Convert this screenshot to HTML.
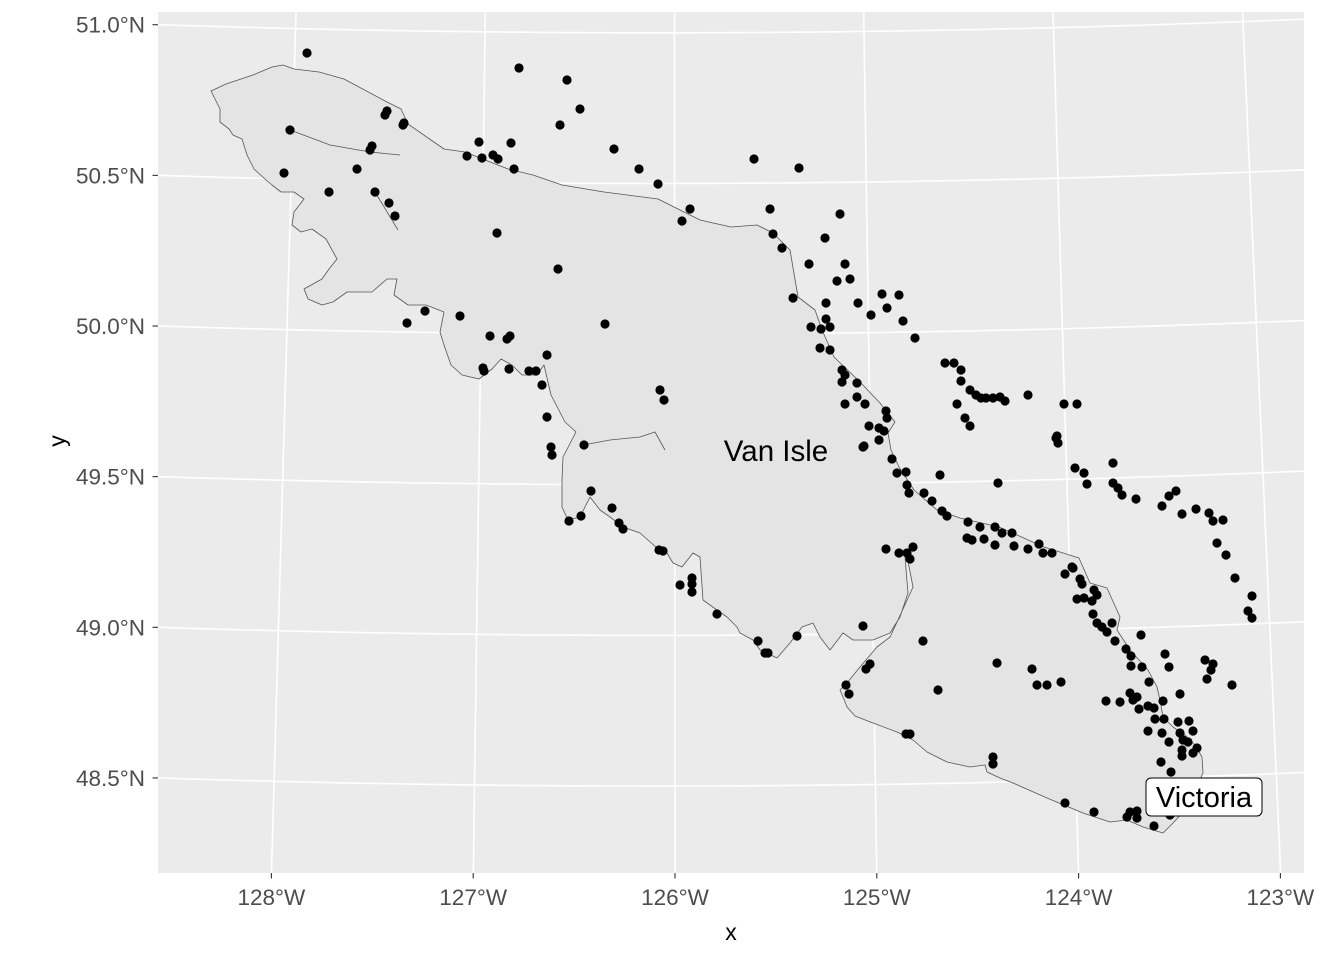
<!DOCTYPE html>
<html><head><meta charset="utf-8"><style>
html,body{margin:0;padding:0;background:#fff;overflow:hidden;width:1344px;height:960px;}
svg{display:block;font-family:"Liberation Sans",Arial,sans-serif;}
</style></head><body>
<svg id="chart" width="1344" height="960" viewBox="0 0 1344 960">
<rect x="0" y="0" width="1344" height="960" fill="#fff"/>
<defs><clipPath id="pc"><rect x="158" y="12" width="1146" height="861"/></clipPath></defs>
<rect x="158" y="12" width="1146" height="861" fill="#EBEBEB"/>
<g id="grid" clip-path="url(#pc)"></g>
<g id="island" clip-path="url(#pc)"></g>
<g id="pts" clip-path="url(#pc)"></g>
<g id="labels"></g>
<g id="axes"></g>
<text x="731" y="940" text-anchor="middle" font-size="23" fill="#000">x</text>
<text x="0" y="0" transform="translate(65,441) rotate(-90)" text-anchor="middle" font-size="23" fill="#000">y</text>
</svg>
<script>
// projected coordinates (km-like easting / northing)
const ptE=[953.5,1059.5,1083.5,1090,1080,945,993.5,992.5,1002,1001.5,1039.5,1055.5,1033.5,1041,1046.5,1049,1057,1107,1119.5,1129,1145,1141,986,985,978.5,942,964.5,987.5,994.5,997.5,1048.5,1079,1012.5,1003.5,1030,1102.5,1045,1053.5,1055,1073.5,1041.5,1042,1054.5,1064.5,1068,1071,1073.5,1130,1132,
1177,1199.5,1185,1220,1186.5,1191,1212.5,1204.5,1222.5,1218.5,1225,1196.5,1213,1229,1241,1249.5,1243.5,1235.5,1251.5,1257.5,1213,1205.5,1210.5,1215,1210,1215,1221,1222.5,1221,1228.5,1228.5,1232.5,1222.5,1243,1243.5,1234.5,1239.5,1242,1239.5,1232,1246,1248.5,1253,1253.5,1254.5,1262,1266,1271,1273.5,1270,1272.5,1277,1280.5,1280.5,1285,1288,1290.5,1293,1296.5,1300,1302.5,1314,1278.5,1282.5,1285,1332,1338.5,1328,1329,1328.5,1337.5,1342,1343.5,1356.5,1356.5,1359,1361,1368,1299,1381,1384.5,1388,1391,1398,1404.5,1406.5,1411.5,1408.5,1413,1284,1290,1297.5,1301,1306,1283.5,1286,1292,1297.5,1307,1314,1319.5,1321.5,1326,1336,1243,1249.5,1253.5,1256.5,1255,
1075.5,1076,1092,1095.5,1106,1090.5,1084.5,1109.5,1111.5,1129.5,1131.5,1140,1146,1146,1146,1158.5,1179,1182.5,1184,1198.5,1231.5,1261.5,1235,1233,1223,1224.5,1269,1298.5,1231.5,
1417.5,1426,1424,1426,1336.5,1332.5,1340,1341,1347,1348.5,1346,1338.5,1342,1346.5,1348.5,1351,1353.5,1356,1357.5,1370.5,1363,1365.5,1365.5,1371,1382.5,1384.5,1374.5,1402.5,1406.5,1405.5,1403.5,1416,1390,1316,1318.5,1323.5,1330.5,1353,1360,1365,1366.5,1368.5,1369.5,1374,1377,1381.5,1377.5,1382,1374,1381,1384.5,1389,1394.5,1390,1396.5,1391.5,1394,1398.5,1391,1396.5,1391,1380.5,1385.5,1332.5,1347,1365,1368.5,1363.5,1368.5,1377,1385,
1253,1255,1296.5,1296.5];
const ptN=[773.5,766,760,745.5,737.5,735,744.5,742.5,738.5,737.5,729,728.5,722,721,722.5,720.5,715.5,725.5,715.5,708,695.5,689.5,727,725,715.5,713.5,704,704,698.5,692,683.5,665.5,644.5,638.5,642,638,632,630.5,632,622.5,616,614.5,615.5,614.5,614.5,607.5,591.5,605,600,
720.5,716,695.5,693,683,676,681,668,668,659.5,660.5,651,648.5,648.5,653,652.5,646,642.5,639.5,631,640.5,636.5,635.5,636.5,626,625,615,612.5,609,608.5,601.5,598,598,594.5,591,587,586,584.5,580,577,570.5,563.5,564,557.5,553.5,553.5,549.5,544.5,542,562.5,618.5,618.5,615,609.5,605,602.5,601,601,601,601.5,599.5,602.5,598,591,587,598,598,581,578.5,582,566,563.5,558,568.5,558.5,556,552.5,550.5,558.5,547,552,554.5,543,545.5,543.5,539.5,540,528.5,522.5,539,536.5,536.5,533.5,533.5,531,530,530.5,527.5,527,525.5,528,523.5,523.5,516.5,525.5,523.5,523.5,526.5,520.5,
576.5,572.5,577.5,554.5,546,542,539.5,538.5,535.5,525,524.5,507.5,511,508,504,493,479.5,473.5,473.5,482,487,479.5,468,465.5,457.5,453,455,468.5,576.5,
511,502,494.5,491,516,513,510.5,508,505,502.5,499.5,500.5,501,493,488.5,486.5,484,488.5,479.5,482.5,475.5,472,467,466.5,473,466.5,459,470,468,465,460.5,457.5,453,465.5,457.5,457.5,459,449.5,449,453.5,450,451.5,445.5,447,446,449.5,440.5,440.5,434.5,433.5,429,439,439.5,433.5,434.5,430,429,426,425,423.5,422,419,414,398.5,394,394,394.5,391.5,391,387,392.5,
433,433,421.5,418];
// coastline polygon (easting, northing)
const coastE=[905.5,913,926.5,936,941.5,947,959.5,972,993.5,1000.5,1004,1022,1032.5,1054,1066.5,1081,1102,1129,1150,1165.5,1178.5,1186.5,1195,1199,1207.5,1211,1217,1230.5,1240,1247.5,1244,1245.5,1249.5,1257,1268.5,1280,1299.5,1322,1339.5,1345,1353.5,1360,1358.5,1365,1374,1378.5,1380,1381.5,1386.5,1392.5,1397.5,1401,1401.5,1397.5,1392.5,1386.5,1381.5,1371.5,1363.5,1355,1341.5,1323.5,1306.5,1300,1293.5,1292.5,1285,1273.5,1263.5,1256.5,1248.5,1236.5,1227.5,1223.5,1221.5,1220,1223.5,1230,1238.5,1245,1249,1256.5,1253.5,1252.5,1254,1250,1245,1236.5,1226.5,1221.5,1215,1210,1206.5,1201,1195,1188.5,1180,1176.5,1170,1168.5,1163.5,1158.5,1151.5,1150,1146.5,1141,1136.5,1133.5,1128.5,1120,1111.5,1105,1100,1095,1090,1084,1081,1081,1081.5,1088,1082.5,1075.5,1072,1068.5,1061,1056,1050.5,1046,1039.5,1031,1025.5,1022,1020,1022,1013,1004,997,998.5,993.5,986,979,973.5,966.5,961,954,952,961,964.5,968.5,963,956,950.5,946,947,952,947,940.5,936,932.5,927,923.5,921,916.5,914.5,910,910];
const coastN=[754.5,758,762.5,766.5,767.5,765.5,764,760.5,749,745.5,738,725.5,724,715.5,712.5,707.5,704,700.5,690,686.5,687.5,683.5,675,651.5,645,635,621.5,608.5,598.5,589,583.5,575,566.5,555,545,541,536.5,526.5,521,508.5,506,491.5,485,475,465,456.5,450,441.5,436.5,432.5,427.5,421.5,413.5,405,395,388.5,383.5,386.5,390,389,393.5,401,408.5,411,414,417.5,416.5,419,424,430,434,438.5,442,446.5,451.5,455,458.5,466.5,476.5,481.5,490,506.5,522,521.5,503.5,491.5,483.5,480,480,483.5,475,481.5,488.5,486.5,478.5,471,475,480,483.5,486.5,491.5,495,500,521.5,523.5,516.5,518.5,523.5,526,533.5,536.5,541.5,545,551.5,541.5,540,546.5,560,571.5,584,589,602.5,617.5,612.5,612.5,617.5,620.5,615.5,610.5,612.5,617.5,627.5,634,644,647.5,647.5,652.5,660.5,660.5,654,654,654,649,647.5,650.5,655.5,660.5,665.5,670.5,680.5,685.5,684,687.5,694,700.5,704,704,707.5,710.5,715.5,722.5,730.5,732.5,735.5,739,745.5];
const inletAE=[945,965,985,1000], inletAN=[735,727.5,724,722.5];
const inletBE=[987.5,999], inletBN=[704,685];
const inletCE=[1091.5,1105,1120,1127.5,1132.5], inletCN=[577.5,580,581.5,584,575];
const latTicks=[48.5,49.0,49.5,50.0,50.5,51.0];
const latLabels=["48.5°N","49.0°N","49.5°N","50.0°N","50.5°N","51.0°N"];
const lonTicks=[-128,-127,-126,-125,-124,-123];
const lonLabels=["128°W","127°W","126°W","125°W","124°W","123°W"];
const placeNames=["Van Isle","Victoria"];
const placeE=[1188,1402];
const placeN=[574.5,401.5];

const NS='http://www.w3.org/2000/svg';
function sx(e){return (e-800)*2;}
function sy(n){return (800-n)*2;}
function proj(lon,lat){
  const y0=326-(lat-50)*301.3;
  const xb=675+(lon+126)*201.8, xt=674.5+(lon+126)*189.3;
  const x=xt+(xb-xt)*(y0-12)/860;
  const y=y0+0.0325*(x-158)-3.256e-5*(x-158)*(x-158);
  return [800+x/2,800-y/2];
}
function mk(tag,attrs,parent){const el=document.createElementNS(NS,tag);for(const k in attrs)el.setAttribute(k,attrs[k]);parent.appendChild(el);return el;}
const grid=document.getElementById('grid');
for(let lat=47.5;lat<=51.51;lat+=0.5){
  let d='';for(let lon=-129.5;lon<=-122;lon+=0.05){const p=proj(lon,lat);d+=(d?'L':'M')+sx(p[0]).toFixed(1)+','+sy(p[1]).toFixed(1);}
  const el=mk('path',{d:d,fill:'none',stroke:'#fff','stroke-width':1.6},grid);
  
  
}
for(let lon=-129;lon<=-122;lon+=1){
  let d='';for(let lat=47.8;lat<=51.3;lat+=0.05){const p=proj(lon,lat);d+=(d?'L':'M')+sx(p[0]).toFixed(1)+','+sy(p[1]).toFixed(1);}
  const el=mk('path',{d:d,fill:'none',stroke:'#fff','stroke-width':1.6},grid);
  
  
}
const isl=document.getElementById('island');
let dd='';coastE.forEach((e,i)=>{dd+=(i?'L':'M')+sx(e)+','+sy(coastN[i]);});dd+='Z';
const poly=mk('path',{d:dd,fill:'#E4E4E4',stroke:'#555','stroke-width':0.8,'stroke-linejoin':'round'},isl);


[[inletAE,inletAN],[inletBE,inletBN],[inletCE,inletCN]].forEach(a=>{
  let d='';a[0].forEach((e,i)=>{d+=(i?'L':'M')+sx(e)+','+sy(a[1][i]);});
  const el=mk('path',{d:d,fill:'none',stroke:'#555','stroke-width':0.8},isl);
  
  
});
const pts=document.getElementById('pts');
ptE.forEach((e,i)=>{
  const c=mk('circle',{cx:sx(e),cy:sy(ptN[i]),r:4.6,fill:'#000'},pts);
  
  
});
const lab=document.getElementById('labels');
{
  const t=mk('text',{x:sx(placeE[0]),y:sy(placeN[0])+10,'text-anchor':'middle','font-size':29.5,fill:'#000'},lab);
  t.textContent=placeNames[0];
  
  
  const cx=sx(placeE[1]),cy=sy(placeN[1]);
  const r=mk('rect',{x:cx-58,y:cy-19,width:116,height:38,rx:5,fill:'#fff',stroke:'#000','stroke-width':1},lab);
  
  
  const t2=mk('text',{x:cx,y:cy+10,'text-anchor':'middle','font-size':29,fill:'#000'},lab);
  t2.textContent=placeNames[1];
  
  
}
const ax=document.getElementById('axes');
latTicks.forEach((lat,i)=>{
  const y=326-(lat-50)*301.3;
  const tk=mk('line',{x1:152.5,x2:158,y1:y,y2:y,stroke:'#333','stroke-width':1.1},ax);
  
  
  const t=mk('text',{x:145,y:y+8,'text-anchor':'end','font-size':22.5,fill:'#4D4D4D'},ax);
  t.textContent=latLabels[i];
  
  
});
lonTicks.forEach((lon,i)=>{
  const x=675+(lon+126)*201.8;
  const tk=mk('line',{x1:x,x2:x,y1:873,y2:878.5,stroke:'#333','stroke-width':1.1},ax);
  
  
  const t=mk('text',{x:x,y:905,'text-anchor':'middle','font-size':22.5,fill:'#4D4D4D'},ax);
  t.textContent=lonLabels[i];
  
  
});
</script>
</body></html>
